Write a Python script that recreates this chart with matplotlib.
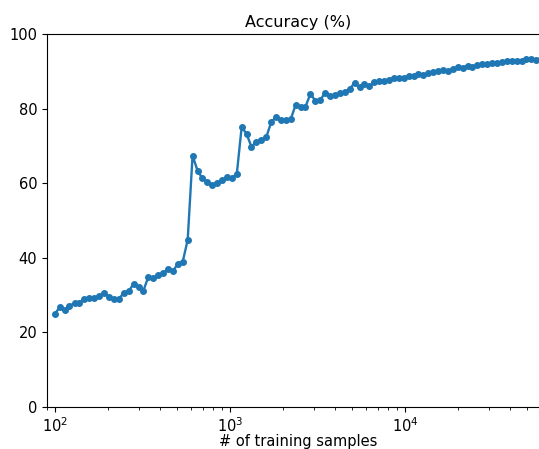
import numpy as np
import matplotlib
matplotlib.use("Agg")
import matplotlib.pyplot as plt

# number of training samples (log spaced, 100 -> 60000)
n_samples = [
    100, 107, 114, 121, 130, 138, 147, 157, 168, 179,
    191, 204, 217, 232, 247, 264, 281, 300, 320, 341,
    364, 389, 414, 442, 472, 503, 537, 573, 611, 652,
    695, 741, 791, 844, 900, 960, 1024, 1093, 1166, 1243,
    1326, 1415, 1509, 1610, 1718, 1832, 1955, 2085, 2224, 2373,
    2531, 2700, 2881, 3073, 3278, 3497, 3730, 3979, 4245, 4528,
    4831, 5153, 5497, 5864, 6256, 6673, 7119, 7594, 8101, 8642,
    9212, 9827, 10483, 11183, 11929, 12726, 13575, 14481, 15448, 16480,
    17580, 18754, 20006, 21341, 22766, 24286, 25907, 27637, 29482, 31450,
    33547, 35787, 38176, 40725, 43444, 46344, 49438, 52739, 56260, 60000,
]

# accuracy in percent
accuracy = [
    25.0, 26.9, 26.0, 27.2, 27.8, 28.0, 28.9, 29.1, 29.3, 29.8,
    30.5, 29.6, 29.0, 29.0, 30.6, 31.1, 33.0, 32.1, 31.2, 34.8,
    34.5, 35.4, 35.8, 37.0, 36.5, 38.3, 39.0, 44.8, 67.4, 63.4,
    61.3, 60.4, 59.4, 60.0, 60.9, 61.6, 61.5, 62.4, 75.1, 73.2,
    69.8, 71.1, 71.6, 72.3, 76.3, 77.8, 76.9, 76.9, 77.2, 81.0,
    80.5, 80.5, 84.0, 82.1, 82.3, 84.3, 83.5, 83.6, 84.3, 84.4,
    85.3, 86.9, 85.7, 86.6, 86.1, 87.0, 87.4, 87.5, 87.8, 88.3,
    88.1, 88.3, 88.7, 88.8, 89.2, 89.0, 89.5, 89.7, 90.2, 90.3,
    90.2, 90.6, 91.2, 91.0, 91.5, 91.2, 91.7, 91.9, 92.0, 92.1,
    92.1, 92.6, 92.8, 92.8, 92.8, 92.8, 93.4, 93.3, 93.1, 93.2,
]

plt.rcParams["font.size"] = 10.5

fig = plt.figure(figsize=(5.39, 4.49), dpi=100)
# axes runs a bit past the right edge, as in the reference crop
ax = fig.add_axes([47 / 539, 42 / 449, 502 / 539, 373 / 449])

ax.plot(n_samples, accuracy, marker="o", markersize=4, linewidth=1.7, color="#1f77b4")
ax.set_xscale("log")
ax.set_xlim(90, 66500)
ax.set_ylim(0, 100)
ax.set_yticks([0, 20, 40, 60, 80, 100])
ax.set_title("Accuracy (%)", fontsize=11.5, pad=5)
ax.set_xlabel("# of training samples", labelpad=-1)

fig.savefig("out.png", dpi=100)
